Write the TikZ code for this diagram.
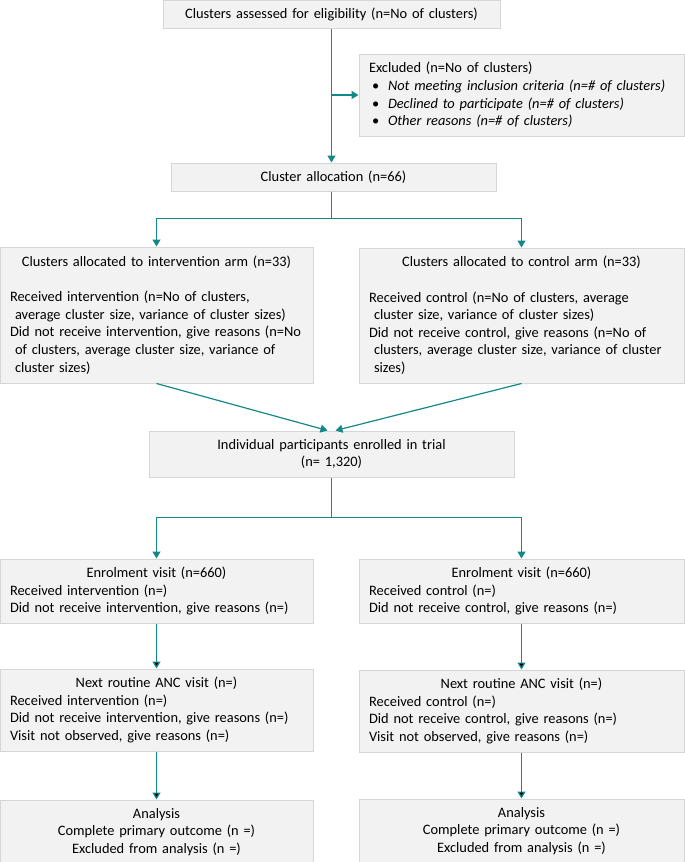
\documentclass[tikz,border=0pt]{standalone}
\usepackage{fontspec}
\setmainfont{Carlito}
\usetikzlibrary{arrows.meta, positioning}
\setlength\parindent{0pt}
\definecolor{flowteal}{RGB}{20,136,136}
\definecolor{boxfill}{RGB}{242,242,242}
\definecolor{boxline}{RGB}{214,214,214}
\tikzset{main box/.style={draw=boxline, fill=boxfill, line width=1pt, inner xsep=10pt, inner ysep=2pt, font=\fontsize{14.4}{17.6}\selectfont},
flow/.style={draw=flowteal, line width=1.2pt, -{Triangle[width=8pt,length=7pt]}},}
\newcommand{\midline}[1]{\null\hskip 0pt plus 1filll #1\hskip 0pt plus 1filll\null}
\newcommand{\bul}[1]{\hspace*{3pt}\makebox[16pt][l]{\textbullet}\textit{#1}}

\begin{document}
\begin{tikzpicture}[x=1pt, y=-1pt]
       \useasboundingbox (0,0) rectangle (685,862);
       \node[main box, text width=317pt, minimum height=28pt, align=center] (1) at (331.5,14) {Clusters assessed for eligibility (n=No of clusters)};
       \node[main box, text width=305pt, minimum height=82pt, align=left] (2) at (521.5,95) {Excluded (n=No of clusters)\\
              \bul{Not meeting inclusion criteria (n=\# of clusters)}\\
              \bul{Declined to participate (n=\# of clusters)}\\
              \bul{Other reasons (n=\# of clusters)}};
       \node[main box, text width=305pt, minimum height=28pt, align=center] (3) at (333.5,177) {Cluster allocation (n=66)};
       
       \node[main box, text width=293pt, minimum height=136pt, align=left] (4) at (156.5,315) {\midline{Clusters allocated to intervention arm (n=33)}\\[17.6pt]
              Received intervention (n=No of clusters,\\
              \hspace*{5pt}average cluster size, variance of cluster sizes)\\
              \mbox{Did not receive intervention, give reasons (n=No}\\
              \hspace*{5pt}of clusters, average cluster size, variance of\\
              \hspace*{5pt}cluster sizes)};
       \node[main box, text width=305pt, minimum height=135pt, align=left] (5) at (521.5,315.5) {\midline{Clusters allocated to control arm (n=33)}\\[17.6pt]
              Received control (n=No of clusters, average\\
              \hspace*{5pt}cluster size, variance of cluster sizes)\\
              Did not receive control, give reasons (n=No of\\
              \hspace*{5pt}\mbox{clusters, average cluster size, variance of cluster}\\
              \hspace*{5pt}sizes)};
       
       \node[main box, text width=345pt, minimum height=46pt, align=center] (6) at (331.5,454) {Individual participants enrolled in trial\\(n= 1,320)};
       
       \node[main box, text width=293pt, minimum height=64pt, align=left] (7) [below = 175pt of 4] {\midline{Enrolment visit (n=660)}\\
              Received intervention (n=)\\
              Did not receive intervention, give reasons (n=)};
       \node[main box, text width=305pt, minimum height=64pt, align=left] (8) [below = 175pt of 5] {\midline{Enrolment visit (n=660)}\\
              Received control (n=)\\
              Did not receive control, give reasons (n=)};
       
       \node[main box, text width=293pt, minimum height=82pt, align=left] (9) [below = 45pt of 7] {\midline{Next routine ANC visit (n=)}\\
              Received intervention (n=)\\
              Did not receive intervention, give reasons (n=)\\
              Visit not observed, give reasons (n=)};
       \node[main box, text width=305pt, minimum height=82pt, align=left] (10) [below = 46pt of 8] {\midline{Next routine ANC visit (n=)}\\
              Received control (n=)\\
              Did not receive control, give reasons (n=)\\
              Visit not observed, give reasons (n=)};
       
       \node[main box, text width=293pt, minimum height=64pt, align=center] (11) [below = 48pt of 9] {Analysis\\Complete primary outcome (n =)\\Excluded from analysis (n =)};
       \node[main box, text width=305pt, minimum height=64pt, align=center] (12) [below = 46pt of 10] {Analysis\\Complete primary outcome (n =)\\Excluded from analysis (n =)};
       
       \draw[flow] (1.south) -- (1.south |- 3.north);
       \draw[flow] (1.south |- 2.west) -- (2.west);
       \draw[flow] (1.south |- 3.south) -- ++(0,27) -| (4.north);
       \draw[flow] (1.south |- 3.south) -- ++(0,27) -| (5.north);
       \draw[flow] (4.south) -- ([xshift=-4pt]6.north);
       \draw[flow] (5.south) -- ([xshift=4pt]6.north);
       \draw[flow] (6.south) -- ++(0,40) -| (7.north);
       \draw[flow] (6.south) -- ++(0,40) -| (8.north);
       \path[flow]
       (7) edge (9)
       (9) edge (11)
       (8) edge (10)
       (10) edge (12);
\end{tikzpicture}
\end{document}
